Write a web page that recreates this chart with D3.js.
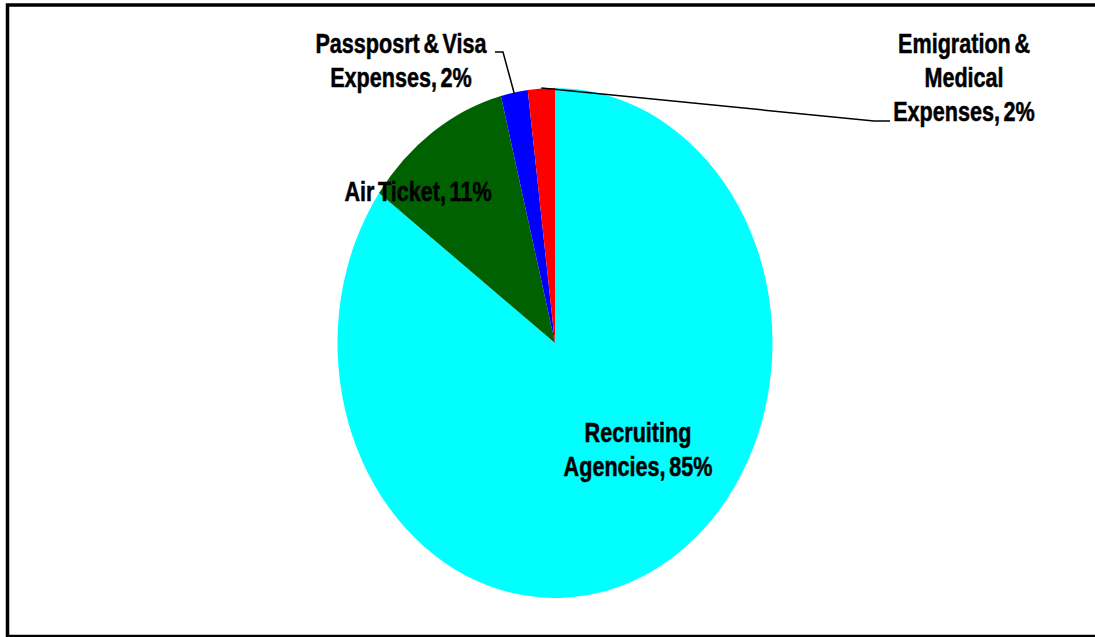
<!DOCTYPE html>
<html>
<head>
<meta charset="utf-8">
<script src="https://cdn.jsdelivr.net/npm/d3@7"></script>
<style>
  html, body { margin: 0; padding: 0; background: #fff; overflow: hidden; }
  svg { display: block; }
</style>
</head>
<body>
<svg id="chart" width="1095" height="637"></svg>
<script>
// data, clockwise from 12 o'clock
var categories = ["Recruiting Agencies", "Air Ticket", "Passposrt & Visa Expenses", "Emigration & Medical Expenses"];
var shares = [85, 11, 2, 2];
var colours = ["#00ffff", "#006100", "#0000ff", "#ff0000"];
var labelLines = [
  ["Recruiting", "Agencies, 85%"],
  ["Air Ticket, 11%"],
  ["Passposrt & Visa", "Expenses, 2%"],
  ["Emigration &", "Medical", "Expenses, 2%"]
];

var svg = d3.select("#chart");
var cx = 555, cy = 343, rx = 217.5, ry = 255;
var lineH = 34.5;

// frame (right edge runs off the picture)
svg.append("rect")
  .attr("x", 7.5).attr("y", 5)
  .attr("width", 1110).attr("height", 631.5)
  .attr("fill", "none").attr("stroke", "#000").attr("stroke-width", 3.5);

var slices = d3.pie().sort(null).value(function(d){ return d; })(shares);
var arc = d3.arc().innerRadius(0).outerRadius(ry);

var pieG = svg.append("g")
  .attr("transform", "translate(" + cx + "," + cy + ") scale(" + (rx / ry) + ",1)");

pieG.selectAll("path")
  .data(slices)
  .enter().append("path")
  .attr("d", arc)
  .attr("fill", function(d, i){ return colours[i]; });

// point on the ellipse edge in the middle of a slice
function edgePoint(d)
{
  var a = (d.startAngle + d.endAngle) / 2;
  return [cx + rx * Math.sin(a), cy - ry * Math.cos(a)];
}

// label placement: [centre x, first baseline]
var labelPos = [[638, 442], [418, 201], [401, 53], [964, 52.5]];

// leader lines for the two thin slices
var p2 = edgePoint(slices[2]);
svg.append("path")
  .attr("d", d3.line()([[495, 52], [503, 52], [p2[0], p2[1] + 1]]))
  .attr("fill", "none").attr("stroke", "#000").attr("stroke-width", 1.5);

var p3 = edgePoint(slices[3]);
svg.append("path")
  .attr("d", d3.line()([[p3[0], p3[1] - 0.5], [874, 121], [890, 121]]))
  .attr("fill", "none").attr("stroke", "#000").attr("stroke-width", 1.5);

labelLines.forEach(function(lines, i)
{
  var g = svg.append("g")
    .attr("transform", "translate(" + labelPos[i][0] + "," + labelPos[i][1] + ") scale(0.8,1)");
  lines.forEach(function(t, j)
  {
    g.append("text")
      .attr("x", 0).attr("y", j * lineH)
      .attr("text-anchor", "middle")
      .attr("font-family", "'Liberation Sans', Arial, sans-serif")
      .attr("font-weight", "bold")
      .attr("font-size", 27)
      .attr("word-spacing", -3)
      .attr("fill", "#000")
      .attr("stroke", "#000")
      .attr("stroke-width", 0.5)
      .text(t);
  });
});
</script>
</body>
</html>
